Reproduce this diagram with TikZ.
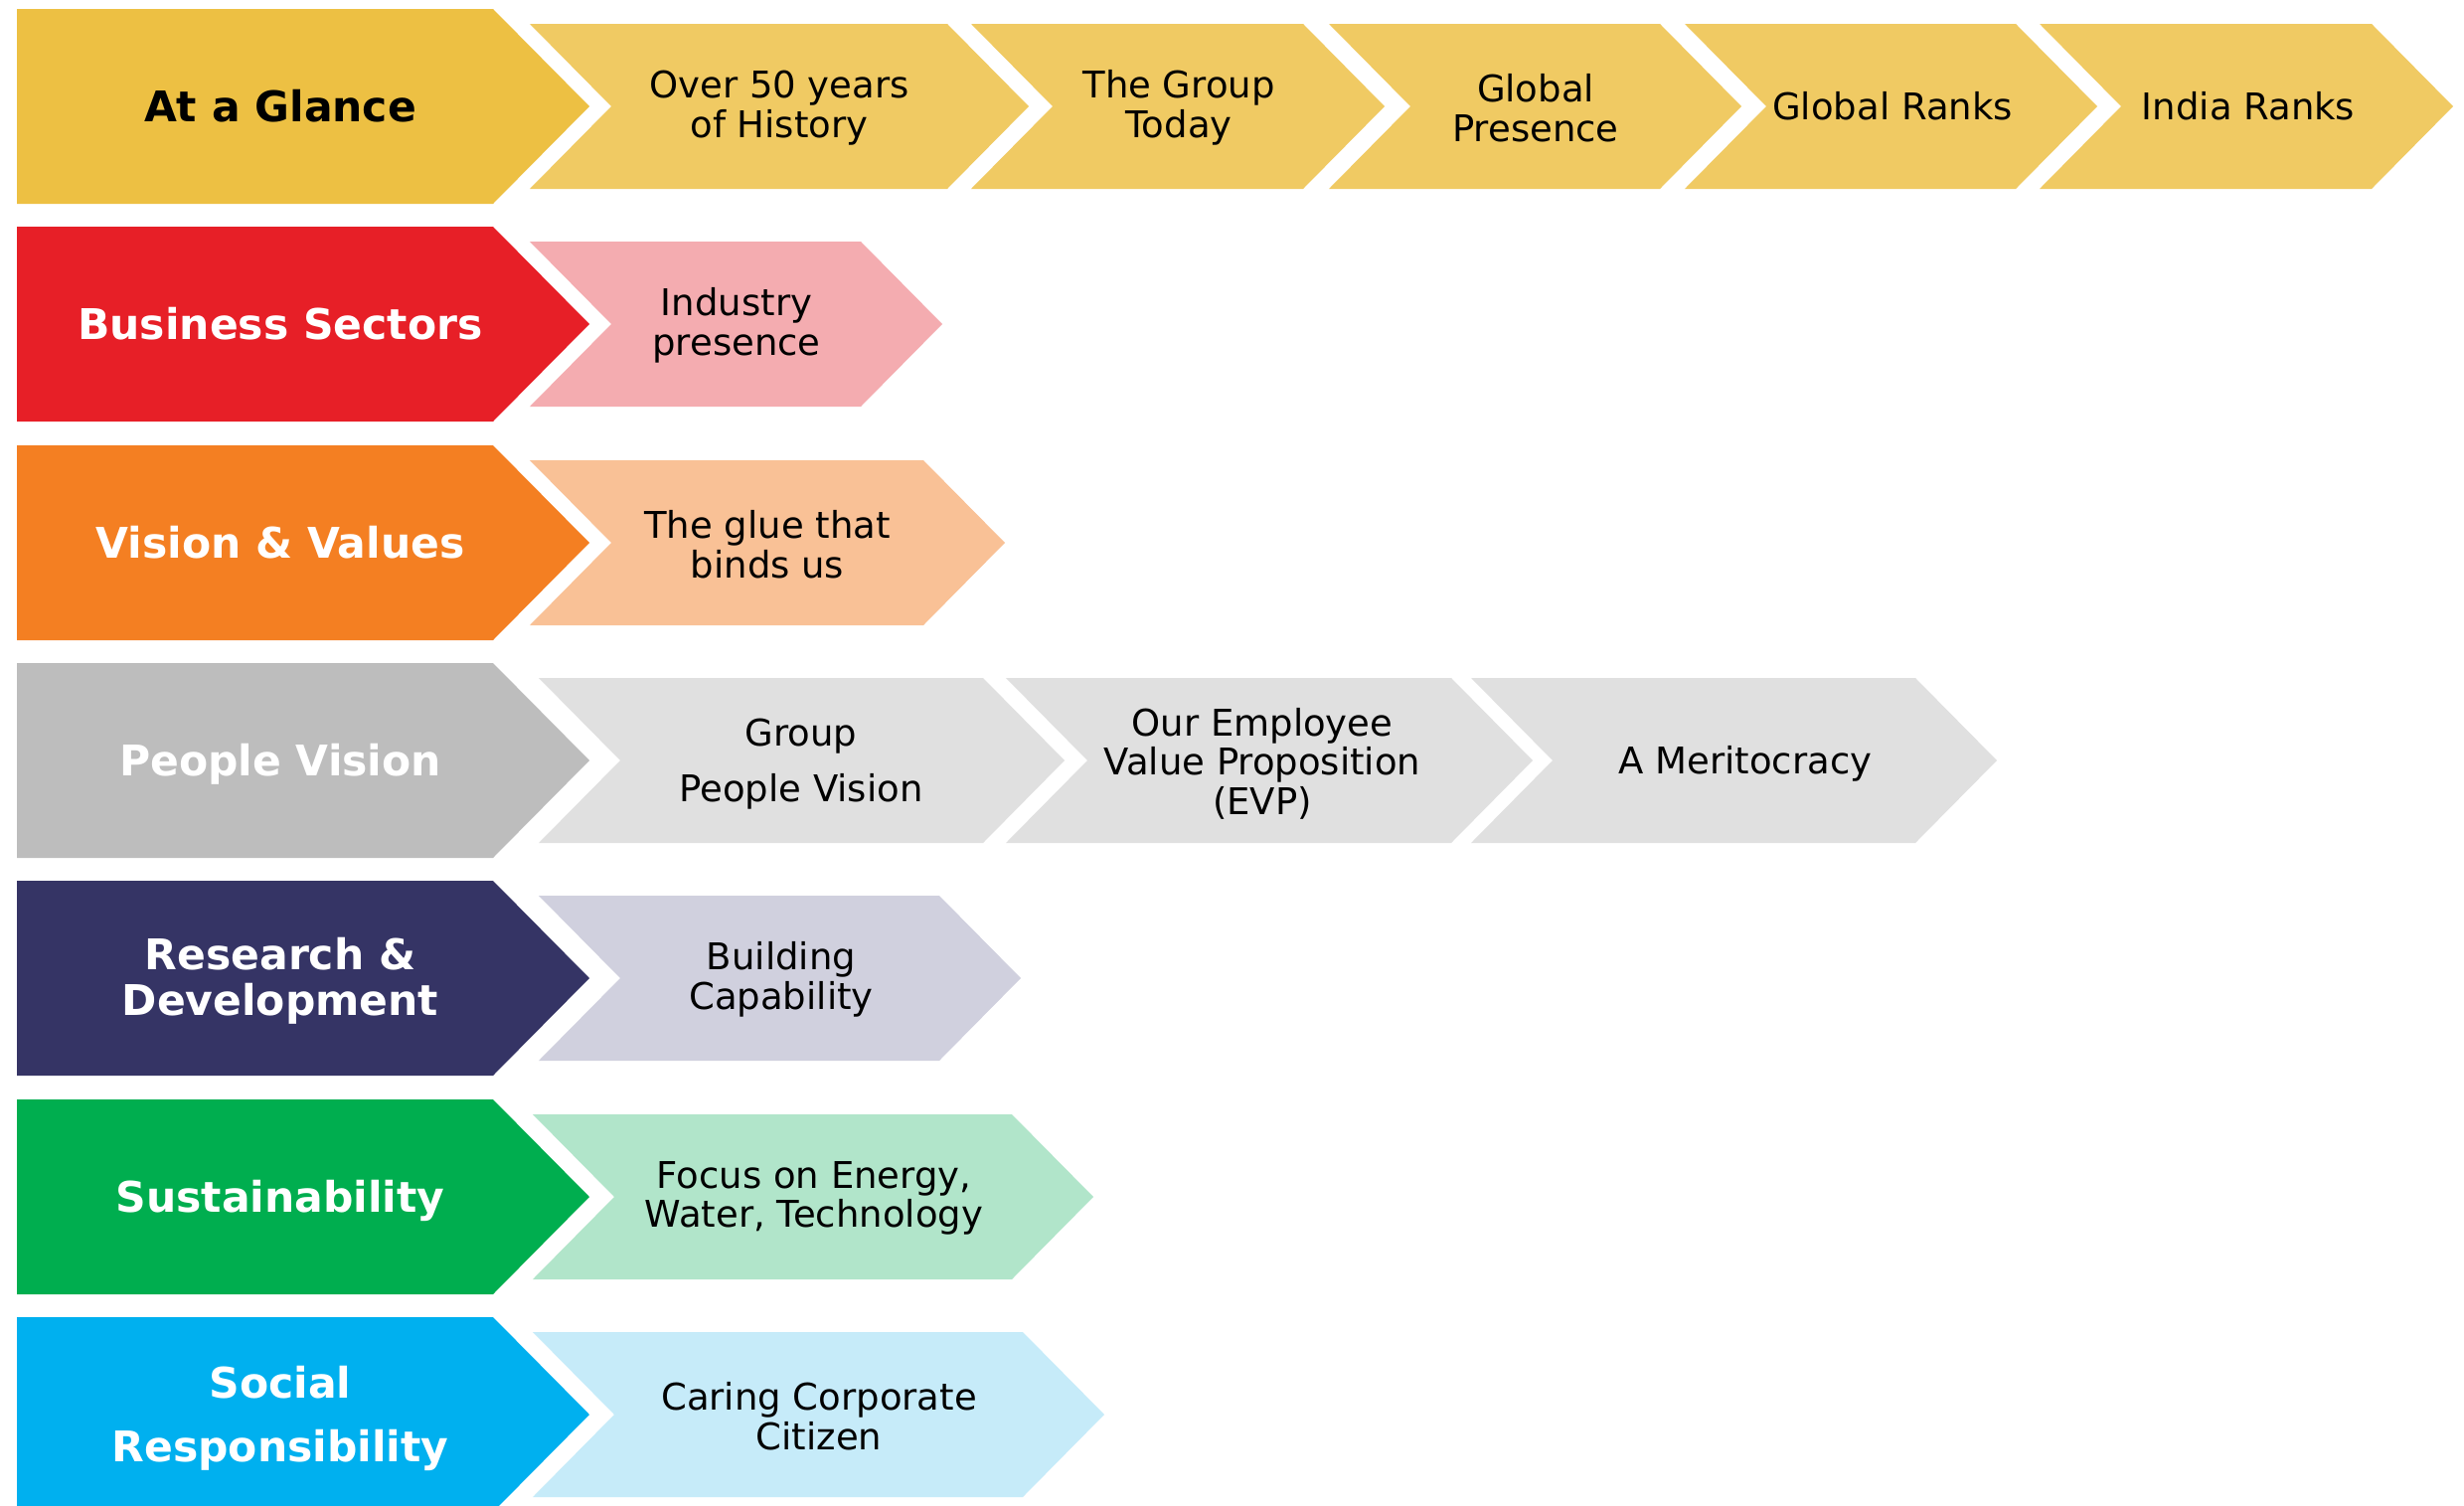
\documentclass[tikz,border=0pt]{standalone}
\usepackage{fontspec}
\setmainfont{DejaVu Sans}
\definecolor{glanceM}{HTML}{EDC043}
\definecolor{glanceS}{HTML}{F0CA63}
\definecolor{busM}{HTML}{E71F27}
\definecolor{busS}{HTML}{F4ACB0}
\definecolor{visM}{HTML}{F47F22}
\definecolor{visS}{HTML}{F9C196}
\definecolor{peoM}{HTML}{BDBDBD}
\definecolor{peoS}{HTML}{E0E0E0}
\definecolor{rdM}{HTML}{353465}
\definecolor{rdS}{HTML}{D0D0DE}
\definecolor{susM}{HTML}{00AE4F}
\definecolor{susS}{HTML}{B1E5CA}
\definecolor{socM}{HTML}{00B0EF}
\definecolor{socS}{HTML}{C6EBF9}
\newcommand\mainchevron[2]{%
  \fill[#2] (17,#1-98) -- (496,#1-98) -- (593,#1) -- (496,#1+98) -- (17,#1+98) -- cycle;}
\newcommand\subchevron[4]{%
  \fill[#4] (#1,#3-83) -- (#2,#3-83) -- (#2+82,#3) -- (#2,#3+83) -- (#1,#3+83) -- (#1+82,#3) -- cycle;}
\tikzset{
  mainlbl/.style={font=\fontsize{42.5}{46}\selectfont\bfseries, text=white, align=center, inner sep=0pt},
  sublbl/.style={font=\fontsize{37}{39.5}\selectfont, text=black, align=center, inner sep=0pt}
}
\begin{document}
\begin{tikzpicture}[x=1pt,y=-1pt]
\useasboundingbox (0,0) rectangle (2479,1515);
\clip (0,0) rectangle (2479,1515);
\fill[white] (0,0) rectangle (2479,1515);
% Row 1
\mainchevron{107}{glanceM}
\subchevron{533}{953}{107}{glanceS}
\subchevron{977}{1311}{107}{glanceS}
\subchevron{1337}{1670}{107}{glanceS}
\subchevron{1695}{2028}{107}{glanceS}
\subchevron{2052}{2386}{107}{glanceS}
\node[mainlbl, text=black, anchor=base] (m1) at (282,122) {At a Glance};
\node[sublbl] (s11) at (784,108.5) {Over 50 years\\of History};
\node[sublbl] (s12) at (1186,108.5) {The Group\\Today};
\node[sublbl] (s13) at (1545,108.5) {Global\\Presence};
\node[sublbl, anchor=base] (s14) at (1904,120.5) {Global Ranks};
\node[sublbl, anchor=base] (s15) at (2262,120.5) {India Ranks};
% Row 2
\mainchevron{326}{busM}
\subchevron{533}{866}{326}{busS}
\node[mainlbl, anchor=base] (m2) at (282,341) {Business Sectors};
\node[sublbl] (s21) at (741,327.5) {Industry\\presence};
% Row 3
\mainchevron{546}{visM}
\subchevron{533}{929}{546}{visS}
\node[mainlbl, anchor=base] (m3) at (282,561) {Vision \& Values};
\node[sublbl] (s31) at (772,547.5) {The glue that\\binds us};
% Row 4
\mainchevron{765}{peoM}
\subchevron{542}{989}{765}{peoS}
\subchevron{1012}{1460}{765}{peoS}
\subchevron{1480}{1927}{765}{peoS}
\node[mainlbl, anchor=base] (m4) at (282,780) {People Vision};
\node[sublbl] (s41) at (806,768.5) {Group\\[16.5pt]People Vision};
\node[sublbl] (s42) at (1270,768) {Our Employee\\Value Proposition\\(EVP)};
\node[sublbl, anchor=base] (s43) at (1756,778) {A Meritocracy};
% Row 5
\mainchevron{984}{rdM}
\subchevron{542}{945}{984}{rdS}
\node[mainlbl] (m5) at (282,987) {Research \&\\Development};
\node[sublbl] (s51) at (786,985.5) {Building\\Capability};
% Row 6
\mainchevron{1204}{susM}
\subchevron{536}{1018}{1204}{susS}
\node[mainlbl, anchor=base] (m6) at (282,1219.5) {Sustainability};
\node[sublbl] (s61) at (819,1205.5) {Focus on Energy,\\Water, Technology};
% Row 7
\mainchevron{1423}{socM}
\subchevron{536}{1029}{1423}{socS}
\node[mainlbl] (m7) at (282,1427) {Social\\[18pt]Responsibility};
\node[sublbl] (s71) at (824,1424.5) {Caring Corporate\\Citizen};
\end{tikzpicture}
\end{document}
